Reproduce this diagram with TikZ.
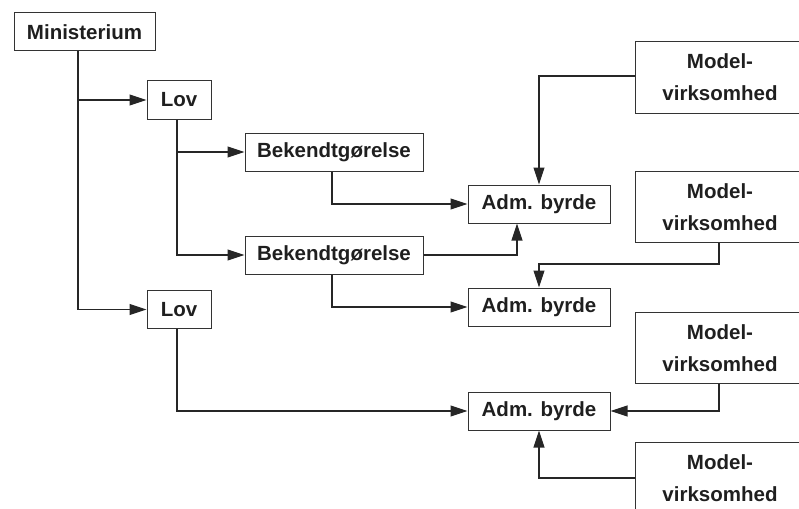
\documentclass[tikz,border=0pt]{standalone}
\usepackage{fontspec}
\setmainfont{Liberation Sans}
\usetikzlibrary{arrows.meta}
\begin{document}
\begin{tikzpicture}[x=1pt,y=-1pt,
  box/.style={draw=black!80,line width=1pt,inner sep=0pt,minimum height=38pt,
    font=\fontsize{20.5}{32}\selectfont\bfseries,text=black!88},
  mbox/.style={box,minimum width=170pt,minimum height=71pt,align=center},
  arr/.style={line width=1.1pt,draw=black!85,-{Triangle[length=17pt,width=11pt]}},
  ln/.style={line width=1.1pt,draw=black!85}]
\useasboundingbox (0,0) rectangle (799,508);
\clip (0,0) rectangle (799,508);
\node[box,minimum width=141pt] (min) at (84.5,32) {Ministerium};
\node[box,minimum width=64pt] (lov1) at (179,100) {Lov};
\node[box,minimum width=178pt] (bek1) at (334,152) {Bekendtgørelse};
\node[box,minimum width=178pt] (bek2) at (334,255) {Bekendtgørelse};
\node[box,minimum width=64pt] (lov2) at (179,309.5) {Lov};
\node[box,minimum width=142pt] (adm1) at (539,204) {Adm. byrde};
\node[box,minimum width=142pt] (adm2) at (539,307) {Adm. byrde};
\node[box,minimum width=142pt] (adm3) at (539,411) {Adm. byrde};
\node[mbox] (mod1) at (720,77.5) {Model-\\virksomhed};
\node[mbox] (mod2) at (720,207) {Model-\\virksomhed};
\node[mbox] (mod3) at (720,348) {Model-\\virksomhed};
\node[mbox] (mod4) at (720,478) {Model-\\virksomhed};
% connectors
\draw[arr] ([xshift=-6.5pt]min.south) |- (lov1.west);
\draw[arr] ([xshift=-6.5pt]min.south) |- (lov2.west);
\draw[arr] ([xshift=-2pt]lov1.south) |- (bek1.west);
\draw[arr] ([xshift=-2pt]lov1.south) |- (bek2.west);
\draw[arr] ([xshift=-2pt]bek1.south) |- (adm1.west);
\draw[arr] (bek2.east) -| ([xshift=-22pt]adm1.south);
\draw[arr] ([xshift=-2pt]bek2.south) |- (adm2.west);
\draw[arr] ([xshift=-2pt]lov2.south) |- (adm3.west);
\draw[arr] ([yshift=1.5pt]mod1.west) -| (adm1.north);
\coordinate (m2turn) at ([xshift=-1pt,yshift=-21pt]mod2.south);
\draw[arr] ([xshift=-1pt]mod2.south) -- (m2turn) -| (adm2.north);
\draw[arr] ([xshift=-1pt]mod3.south) |- (adm3.east);
\draw[arr] (mod4.west) -| (adm3.south);
\end{tikzpicture}
\end{document}
